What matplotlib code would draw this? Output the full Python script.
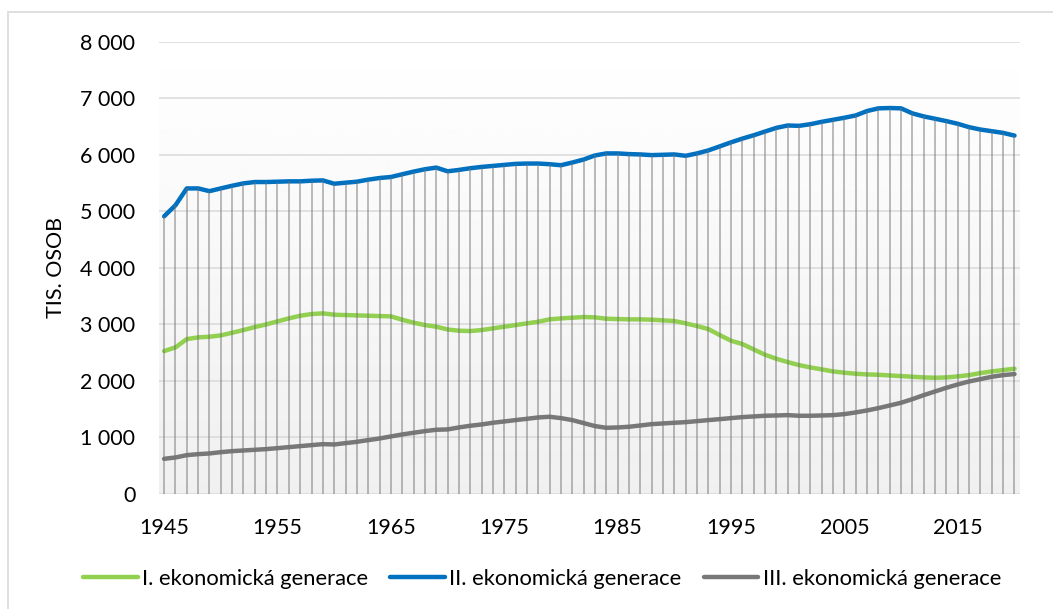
import matplotlib
matplotlib.use('Agg')
import matplotlib.pyplot as plt
import numpy as np
from matplotlib.ticker import FuncFormatter, MultipleLocator
from matplotlib.patches import Rectangle

plt.rcParams['font.family'] = ['Lato', 'DejaVu Sans']

years = list(range(1945, 2021))

# I. ekonomicka generace (tis. osob)
gen1 = [2528, 2593, 2740, 2770, 2782, 2805, 2852, 2900, 2953, 3000,
        3053, 3106, 3153, 3183, 3195, 3171, 3165, 3159, 3153, 3147,
        3142, 3083, 3030, 2988, 2959, 2910, 2888, 2882, 2900, 2929,
        2959, 2988, 3018, 3047, 3089, 3106, 3118, 3130, 3124, 3100,
        3094, 3089, 3089, 3083, 3071, 3059, 3018, 2971, 2917, 2811,
        2711, 2652, 2557, 2463, 2392, 2333, 2280, 2239, 2204, 2168,
        2145, 2127, 2115, 2109, 2097, 2086, 2074, 2062, 2056, 2062,
        2080, 2103, 2139, 2168, 2192, 2215]

# II. ekonomicka generace
gen2 = [4911, 5107, 5405, 5405, 5357, 5405, 5452, 5494, 5518, 5518,
        5524, 5530, 5530, 5541, 5547, 5488, 5506, 5524, 5560, 5589,
        5607, 5655, 5702, 5744, 5773, 5708, 5732, 5762, 5785, 5803,
        5821, 5839, 5845, 5845, 5833, 5815, 5863, 5916, 5988, 6024,
        6024, 6012, 6006, 5994, 6000, 6006, 5982, 6024, 6077, 6148,
        6220, 6286, 6345, 6411, 6476, 6518, 6512, 6541, 6583, 6619,
        6655, 6696, 6774, 6821, 6827, 6821, 6732, 6678, 6637, 6595,
        6548, 6488, 6446, 6417, 6387, 6339]

# III. ekonomicka generace
gen3 = [622, 646, 687, 705, 717, 740, 758, 770, 782, 794,
        811, 829, 847, 864, 882, 876, 900, 923, 953, 982,
        1018, 1053, 1083, 1112, 1136, 1142, 1177, 1207, 1230, 1260,
        1283, 1307, 1330, 1354, 1366, 1342, 1307, 1254, 1201, 1171,
        1177, 1189, 1212, 1236, 1248, 1260, 1271, 1289, 1307, 1324,
        1342, 1360, 1372, 1384, 1389, 1395, 1384, 1384, 1389, 1395,
        1413, 1443, 1478, 1519, 1566, 1614, 1678, 1749, 1814, 1879,
        1938, 1991, 2032, 2074, 2103, 2121]

labels = ['I. ekonomická generace', 'II. ekonomická generace',
          'III. ekonomická generace']
colors = ['#92d050', '#0070c0', '#787878']

W, H = 1053, 609
fig = plt.figure(figsize=(W / 100, H / 100), dpi=100)
fig.patch.set_facecolor('white')

# outer chart border (only top and left visible)
fig.patches.append(Rectangle((8 / W, -0.05), 1.1, 1 - 12 / H + 0.05,
                             transform=fig.transFigure, fill=False,
                             edgecolor='#d9d9d9', lw=1.2, clip_on=False))

ax = fig.add_axes([159 / W, 1 - 494 / H, (1019.6 - 159) / W, (494 - 41.7) / H])
x0, x1 = 1944.55, 2020.45
ax.set_xlim(x0, x1)
ax.set_ylim(0, 8000)

# gradient plot background
grad = np.linspace(1.0, 0.94, 256).reshape(-1, 1)
ax.imshow(grad, extent=[x0, x1, 0, 8000], aspect='auto', cmap='gray',
          vmin=0, vmax=1, zorder=0, interpolation='bilinear')

ax.yaxis.set_major_locator(MultipleLocator(1000))
ax.yaxis.set_major_formatter(FuncFormatter(lambda v, p: f'{int(v):,}'.replace(',', ' ')))
ax.set_xticks(list(range(1945, 2021, 10)))
ax.grid(axis='y', color='#d9d9d9', lw=1.1, zorder=1)
ax.set_axisbelow(True)
for s in ax.spines.values():
    s.set_visible(False)
ax.tick_params(length=0, labelsize=15.5, colors='black')
ax.tick_params(axis='y', pad=17)
ax.tick_params(axis='x', pad=17)

for vals, lab, c in zip([gen1, gen2, gen3], labels, colors):
    ax.plot(years, vals, color=c, lw=3.2, label=lab, zorder=3,
            solid_capstyle='round', solid_joinstyle='round')

# drop lines from the top series to the axis
ax.vlines(years, 0, gen2, color='#707070', alpha=0.6, lw=1.1, zorder=4)

ax.set_ylabel('TIS. OSOB', fontsize=15.5, labelpad=10)

fig.legend(loc='center', bbox_to_anchor=(542 / W, 1 - 579 / H), ncol=3,
           frameon=False, fontsize=15.8, handlelength=2.5,
           handletextpad=0.2, columnspacing=1.0)

fig.savefig('out.png', dpi=100)
